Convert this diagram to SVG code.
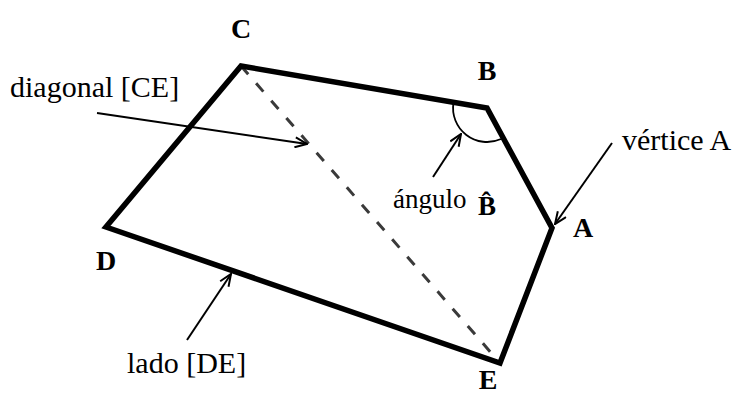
<svg xmlns="http://www.w3.org/2000/svg" width="735" height="396" viewBox="0 0 735 396">
<style>
.vx{font-family:"Liberation Serif","Times New Roman",serif;font-weight:bold;font-size:28px;fill:#000;text-anchor:middle}
.lb{font-family:"Liberation Serif","Times New Roman",serif;font-size:30px;fill:#000}
.ptr{stroke:#000;stroke-width:2;fill:none;marker-end:url(#arr)}
</style>
<defs>
<marker id="arr" viewBox="0 0 14 12" refX="13" refY="6" markerWidth="14" markerHeight="12" orient="auto" markerUnits="userSpaceOnUse">
<path d="M1,1 L13,6 L1,11" fill="none" stroke="#000" stroke-width="2"/>
</marker>
</defs>
<rect width="735" height="396" fill="#fff"/>
<g id="diagonal-CE">
<line x1="241" y1="66" x2="500" y2="363" stroke="#3a3a3a" stroke-width="3" stroke-dasharray="11 12"/>
</g>
<g id="pentagon">
<polygon points="241,66 487,108 552,228 500,363 106,227" fill="none" stroke="#000" stroke-width="5.5" stroke-linejoin="miter"/>
<path d="M453.5,102.5 A34,34 0 0 0 501,139" fill="none" stroke="#000" stroke-width="1.8"/>
</g>
<g id="vertex-C"><text class="vx" x="241" y="38">C</text></g>
<g id="vertex-B"><text class="vx" x="487" y="80">B</text></g>
<g id="vertex-A"><text class="vx" x="583" y="237">A</text></g>
<g id="vertex-D"><text class="vx" x="106" y="270">D</text></g>
<g id="vertex-E"><text class="vx" x="488" y="389">E</text></g>
<g id="label-diagonal"><text class="lb" x="10" y="97">diagonal [CE]</text></g>
<g id="label-angulo"><text class="lb" x="393" y="208" style="font-size:27px">ángulo</text><text class="vx" x="487" y="215" style="font-size:27px">B̂</text></g>
<g id="label-vertice"><text class="lb" x="622" y="150">vértice A</text></g>
<g id="label-lado"><text class="lb" x="127" y="373">lado [DE]</text></g>
<g id="connectors">
<line class="ptr" x1="97" y1="113" x2="307" y2="144"/>
<line class="ptr" x1="433" y1="177" x2="461" y2="134"/>
<line class="ptr" x1="612" y1="143" x2="555" y2="224"/>
<line class="ptr" x1="187" y1="340" x2="231" y2="274"/>
</g>
</svg>
